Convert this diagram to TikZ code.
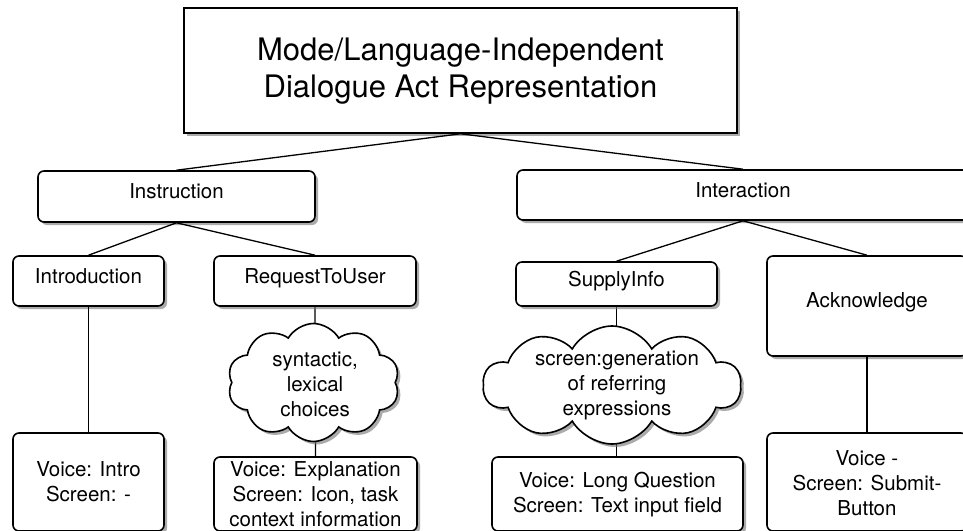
\documentclass[tikz,border=0pt]{standalone}
\usepackage{fontspec}
\setmainfont{TeX Gyre Heros}
\usetikzlibrary{shapes.symbols,shadows,backgrounds}
\begin{document}
\begin{tikzpicture}[x=1pt,y=-1pt,
  shadowed/.style={drop shadow={shadow xshift=3pt,shadow yshift=-3pt,fill=black!55,opacity=0.6}},
  shape base/.style={draw,line width=1.6pt,fill=white,inner sep=0pt,shadowed},
  plainbox/.style={shape base,rectangle},
  box/.style={shape base,rectangle,rounded corners=6pt},
  puff/.style={shape base,cloud,cloud puffs=10,cloud puff arc=120},
  txt/.style={inner sep=0pt,align=center,font=\fontsize{20.5}{25}\selectfont},
  bigtxt/.style={inner sep=0pt,align=center,font=\fontsize{31}{37}\selectfont},
  link/.style={line width=1.3pt}
]
\clip (0,0) rectangle (963,530);

% shapes
\node[plainbox,minimum width=553pt,minimum height=125pt] (top) at (460.5,70.5) {};
\node[box,minimum width=277pt,minimum height=51pt] (instr) at (176.5,196.5) {};
\node[box,minimum width=452pt,minimum height=50pt] (inter) at (743,195) {};
\node[box,minimum width=151pt,minimum height=50pt] (intro) at (88.5,281) {};
\node[box,minimum width=202pt,minimum height=50pt] (req) at (315,281) {};
\node[box,minimum width=201pt,minimum height=44pt] (sup) at (616.5,284) {};
\node[box,minimum width=200pt,minimum height=100pt] (ack) at (867,306) {};
\node[box,minimum width=151pt,minimum height=98pt] (vintro) at (88.5,482) {};
\node[box,minimum width=203pt,minimum height=74pt] (vexp) at (315.5,494) {};
\node[box,minimum width=251pt,minimum height=74pt] (vlong) at (617.5,494) {};
\node[box,minimum width=200pt,minimum height=98pt] (vack) at (867,482) {};
\node[puff,minimum width=172pt,minimum height=118pt] (c1) at (313.5,382.5) {};
\node[puff,minimum width=258pt,minimum height=118pt] (c2) at (612,385) {};

% labels
\node[bigtxt] (ttop) at (460.5,71) {Mode/Language-Independent\\Dialogue Act Representation};
\node[txt,anchor=base] (tinstr) at (176.5,198.5) {Instruction};
\node[txt,anchor=base] (tinter) at (743,197.5) {Interaction};
\node[txt,anchor=base] (tintro) at (88.5,283.5) {Introduction};
\node[txt,anchor=base] (treq) at (315,283.5) {RequestToUser};
\node[txt,anchor=base] (tsup) at (616.5,286.5) {SupplyInfo};
\node[txt,anchor=base] (tack) at (867,307.5) {Acknowledge};
\node[txt] (tc1) at (315,384) {syntactic,\\lexical\\choices};
\node[txt] (tc2) at (617,385) {screen:generation\\of referring\\expressions};
\node[txt] (tvintro) at (88.5,482) {Voice: Intro\\Screen: -};
\node[txt] (tvexp) at (315.5,494.5) {Voice: Explanation\\Screen: Icon, task\\context information};
\node[txt] (tvlong) at (617.5,495) {Voice: Long Question\\Screen: Text input field};
\node[txt] (tvack) at (867,483) {Voice -\\Screen: Submit-\\Button};

% connectors
\draw[link] (top.south) -- (instr.north);
\draw[link] (top.south) -- (inter.north);
\draw[link] (instr.south) -- (intro.north);
\draw[link] (instr.south) -- (req.north);
\draw[link] (inter.south) -- (sup.north);
\draw[link] (inter.south) -- (ack.north);
\draw[link] (intro.south) -- (vintro.north);
\draw[link] (ack.south) -- (vack.north);
% the two stems that pass behind the clouds
\begin{scope}[on background layer]
  \fill[white] (0,0) rectangle (963,530);
  \draw[link] (req.south) -- (vexp.north);
  \draw[link] (sup.south) -- (sup.south |- vlong.north);
\end{scope}
\end{tikzpicture}
\end{document}
